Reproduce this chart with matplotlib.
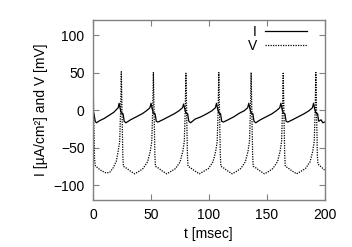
import matplotlib
matplotlib.use("Agg")
import matplotlib.pyplot as plt

# membrane current I [uA/cm^2]
t_I = [0, 1, 2, 3, 6, 10, 14, 18, 20.5, 21.8, 22.6, 23.5, 24.5,
       26, 27, 28.5, 32.5, 37.5, 42.5, 46.2, 49.2, 50.2, 51.1, 52.2,
       53.7, 54.7, 56.2, 60.2, 65.2, 70.2, 74.3, 77.3, 78.3, 79.2, 80.3,
       81.8, 82.8, 84.3, 88.3, 93.3, 98.3, 102.7, 105.7, 106.7, 107.6, 108.7,
       110.2, 111.2, 112.7, 116.7, 121.7, 126.7, 130.6, 133.6, 134.6, 135.5, 136.6,
       138.1, 139.1, 140.6, 144.6, 149.6, 154.6, 158.3, 161.3, 162.3, 163.2, 164.3,
       165.8, 166.8, 168.3, 172.3, 177.3, 182.3, 186.5, 189.5, 190.5, 191.4, 192.5,
       194, 195, 197, 198.5, 200]
I = [0, -6, -15, -17, -14, -11, -7, -3, 1, 3, 9, 2, -4,
     -5, -15, -17, -13, -9, -5, -1, 3, 9, 2, -4,
     -5, -15, -16, -13, -9, -5, -1, 3, 8, 2, -4,
     -5, -15, -17, -12, -9, -5, -1, 3, 9, 2, -4,
     -5, -15, -16, -13, -9, -4, -1, 3, 9, 2, -4,
     -5, -15, -17, -13, -9, -5, -1, 3, 9, 2, -4,
     -5, -15, -16, -13, -9, -5, -1, 3, 9, 2, -4,
     -5, -15, -13, -17, -16]

# membrane potential V [mV]
t_V = [0, 0.7, 1.4, 2, 4, 7.5, 11.5, 14.5, 17.5, 20.2, 21.8, 23.1, 23.9, 24.5,
       25.1, 25.8, 26.3, 28.5, 32, 36, 39.5, 43.2, 47.2, 49.5, 50.8, 51.6, 52.2,
       52.8, 53.5, 54, 56.2, 59.7, 63.7, 67.2, 71.3, 75.3, 77.6, 78.9, 79.7, 80.3,
       80.9, 81.6, 82.1, 84.3, 87.8, 91.8, 95.3, 99.7, 103.7, 106, 107.3, 108.1, 108.7,
       109.3, 110, 110.5, 112.7, 116.2, 120.2, 123.7, 127.6, 131.6, 133.9, 135.2, 136, 136.6,
       137.2, 137.9, 138.4, 140.6, 144.1, 148.1, 151.6, 155.3, 159.3, 161.6, 162.9, 163.7, 164.3,
       164.9, 165.6, 166.1, 168.3, 171.8, 175.8, 179.3, 183.5, 187.5, 189.8, 191.1, 191.9, 192.5,
       193.1, 193.8, 194.3, 196.5, 200]
V = [50, -10, -65, -74, -77, -81, -84, -83, -77, -68, -55, -42, 0, 51,
     0, -60, -75, -77, -81, -85, -82, -78, -69, -55, -42, 0, 50,
     0, -60, -75, -77, -81, -85, -82, -78, -69, -55, -42, 0, 49,
     0, -60, -75, -77, -81, -85, -82, -78, -69, -55, -42, 0, 50,
     0, -60, -75, -77, -81, -85, -82, -78, -69, -55, -42, 0, 50,
     0, -60, -75, -77, -81, -85, -82, -78, -69, -55, -42, 0, 49,
     0, -60, -75, -77, -81, -85, -82, -78, -69, -55, -42, 0, 50,
     0, -60, -72, -75, -80]

x_ticks = [0, 50, 100, 150, 200]
y_ticks = [-100, -50, 0, 50, 100]

plt.rcParams['font.family'] = ['Liberation Sans', 'DejaVu Sans']
plt.rcParams['font.size'] = 10

fig = plt.figure(figsize=(3.52, 2.47), dpi=100)
ax = fig.add_axes([0.264, 0.19, 0.658, 0.729])

ax.plot(t_I, I, color='black', lw=0.9, label='I')
ax.plot(t_V, V, color='black', lw=0.9, ls=(0, (1, 1)), label='V')

ax.set_xlim(0, 200)
ax.set_ylim(-120, 120)
ax.set_xticks(x_ticks)
ax.set_yticks(y_ticks)
ax.tick_params(direction='in', length=4, width=0.8, color='#808080',
               top=True, right=True, labelsize=10, pad=6)
for sp in ax.spines.values():
    sp.set_color('#808080')
    sp.set_linewidth(1.0)

ax.set_xlabel('t [msec]', labelpad=3)
ax.set_ylabel('I [µA/cm²] and V [mV]', labelpad=4)

ax.legend(loc='upper right', bbox_to_anchor=(0.923, 0.975), frameon=False,
          markerfirst=False, handlelength=3.0, handletextpad=0.6,
          labelspacing=0.0, borderaxespad=0, borderpad=0, fontsize=10)

fig.savefig('out.png', dpi=100)
